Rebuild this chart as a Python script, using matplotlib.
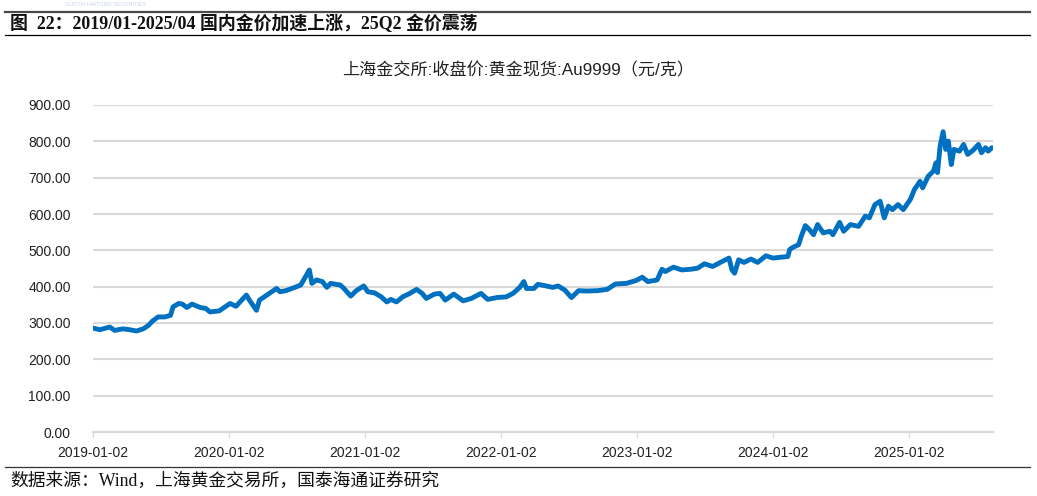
import matplotlib
matplotlib.use("Agg")
import matplotlib.pyplot as plt
import pandas as pd
from matplotlib.lines import Line2D

plt.rcParams['font.family'] = ['Liberation Sans', 'Noto Sans CJK SC', 'DejaVu Sans']

# ---- data ----
dates = [
    "2019-01-02", "2019-01-20", "2019-02-16", "2019-03-01", "2019-03-23", "2019-04-10",
    "2019-04-29", "2019-05-17", "2019-05-31", "2019-06-11", "2019-06-26", "2019-07-14",
    "2019-07-29", "2019-08-05", "2019-08-20", "2019-08-30", "2019-09-11", "2019-09-25",
    "2019-10-17", "2019-11-01", "2019-11-12", "2019-12-07", "2020-01-05", "2020-01-21",
    "2020-02-18", "2020-02-26", "2020-03-16", "2020-03-24", "2020-04-13", "2020-05-09",
    "2020-05-18", "2020-06-03", "2020-07-02", "2020-07-13", "2020-08-05", "2020-08-12",
    "2020-08-24", "2020-09-09", "2020-09-21", "2020-10-01", "2020-10-27", "2020-11-06",
    "2020-11-24", "2020-12-09", "2020-12-29", "2021-01-09", "2021-01-27", "2021-02-14",
    "2021-03-01", "2021-03-12", "2021-03-27", "2021-04-13", "2021-05-02", "2021-05-20",
    "2021-06-04", "2021-06-15", "2021-07-07", "2021-07-22", "2021-08-05", "2021-08-28",
    "2021-09-22", "2021-10-14", "2021-11-09", "2021-11-27", "2021-12-22", "2022-01-16",
    "2022-02-03", "2022-02-21", "2022-03-04", "2022-03-11", "2022-03-31", "2022-04-11",
    "2022-05-03", "2022-05-21", "2022-06-04", "2022-06-22", "2022-07-10", "2022-07-29",
    "2022-08-20", "2022-09-18", "2022-10-14", "2022-11-05", "2022-12-04", "2022-12-30",
    "2023-01-16", "2023-01-31", "2023-02-25", "2023-03-10", "2023-03-19", "2023-04-10",
    "2023-05-02", "2023-05-27", "2023-06-14", "2023-07-02", "2023-07-24", "2023-08-19",
    "2023-09-06", "2023-09-14", "2023-09-21", "2023-10-02", "2023-10-16", "2023-11-04",
    "2023-11-22", "2023-12-14", "2024-01-02", "2024-01-27", "2024-02-11", "2024-02-16",
    "2024-02-22", "2024-03-11", "2024-03-18", "2024-03-29", "2024-04-09", "2024-04-20",
    "2024-05-01", "2024-05-16", "2024-06-03", "2024-06-11", "2024-06-29", "2024-07-10",
    "2024-07-28", "2024-08-19", "2024-09-06", "2024-09-17", "2024-10-02", "2024-10-16",
    "2024-10-27", "2024-11-07", "2024-11-18", "2024-12-03", "2024-12-17", "2025-01-05",
    "2025-01-16", "2025-01-31", "2025-02-07", "2025-02-22", "2025-03-08", "2025-03-15",
    "2025-03-19", "2025-03-26", "2025-04-03", "2025-04-10", "2025-04-17", "2025-04-25",
    "2025-05-02", "2025-05-17", "2025-05-28", "2025-06-08", "2025-06-23", "2025-07-07",
    "2025-07-15", "2025-07-26", "2025-08-02", "2025-08-12",
]
prices = [
    286, 281.5, 289, 279.6, 284, 281.5,
    278, 284, 293.5, 305.5, 316.7, 316.7,
    321, 344.4, 353.7, 352, 342.6, 352,
    342.6, 340, 330.5, 333.3, 353.7, 346,
    377, 363, 335, 363, 377, 395,
    386, 389, 400, 404.6, 446, 409,
    418.5, 414, 398, 409, 404.6, 395,
    374, 389, 402, 386, 383, 372,
    358, 365, 358, 372, 381.5, 392.6,
    381.5, 367.6, 379.6, 381.5, 363, 379.6,
    361, 367.6, 381.5, 365, 370, 372,
    381.5, 398, 414, 395, 395, 406.5,
    402, 398, 402, 390.7, 370, 389,
    388, 389, 392.6, 407.4, 409, 416.7,
    426, 414, 418.5, 448, 441.7, 453.7,
    446, 448, 451, 463, 455.6, 469.5,
    478.7, 446, 437, 474, 466.7, 476,
    466.7, 485, 478.7, 481.5, 483, 502,
    506.7, 515.8, 538.7, 568, 557, 543,
    571, 548, 552.5, 543, 577, 552.5,
    571, 566, 594, 589.5, 626, 635,
    589.5, 621.5, 612, 626, 612, 640,
    667.5, 690, 672, 704, 718, 741,
    714, 787, 826.5, 777.8, 800.7, 736,
    777.8, 773, 791.5, 764, 776, 791.5,
    768.7, 782.5, 773, 782.5,
]
tick_dates = ["2019-01-02", "2020-01-02", "2021-01-02", "2022-01-02",
              "2023-01-02", "2024-01-02", "2025-01-02"]
y_ticks = [0, 100, 200, 300, 400, 500, 600, 700, 800, 900]

fig_title = "图  22：2019/01-2025/04 国内金价加速上涨，25Q2 金价震荡"
chart_title = "上海金交所:收盘价:黄金现货:Au9999（元/克）"
source_text = "数据来源：Wind，上海黄金交易所，国泰海通证券研究"
header_text = "GUOTAI HAITONG SECURITIES"

x = pd.to_datetime(dates)

fig = plt.figure(figsize=(10.37, 4.96), dpi=100)
ax = fig.add_axes([93 / 1037, 1 - 432 / 496, 900 / 1037, 327 / 496])

ax.plot(x, prices, color="#0070C0", lw=3.5, solid_joinstyle="round",
        solid_capstyle="round", zorder=3)

ax.set_ylim(0, 900)
ax.set_yticks(y_ticks)
ax.set_yticklabels([f"{v:.2f}" for v in y_ticks])
ax.set_xlim(pd.Timestamp("2019-01-02"), pd.Timestamp("2025-08-15"))
ax.set_xticks(pd.to_datetime(tick_dates))
ax.set_xticklabels(tick_dates)

ax.grid(axis="y", color="#D9D9D9", lw=1.5, zorder=0)
ax.set_axisbelow(True)
for s in ["top", "right", "left"]:
    ax.spines[s].set_visible(False)
ax.spines["bottom"].set_color("#D9D9D9")
ax.spines["bottom"].set_linewidth(1.5)
ax.tick_params(axis="y", length=0, pad=16, labelsize=10, labelcolor="#222222")
ax.tick_params(axis="x", length=4, width=1, color="#D9D9D9", pad=6,
               labelsize=10, labelcolor="#222222")

# header / footer decorations
fig.add_artist(Line2D([5 / 1037, 1030 / 1037], [1 - 12 / 496] * 2, color="#4a4a4a", lw=1.6))
fig.add_artist(Line2D([5 / 1037, 1030 / 1037], [1 - 35 / 496] * 2, color="#000000", lw=0.9))
fig.add_artist(Line2D([5 / 1037, 1030 / 1037], [1 - 467 / 496] * 2, color="#333333", lw=0.9))
fig.text(65 / 1037, 1 - 5 / 496, header_text, fontsize=4, color="#C9D6EA",
         va="center", ha="left")

fig.text(10 / 1037, 1 - 24 / 496, fig_title, fontsize=12.9, fontweight="bold",
         family=["Liberation Serif", "Noto Sans CJK SC"], va="center", ha="left",
         color="#111111")
fig.text(518 / 1037, 1 - 70 / 496, chart_title, fontsize=12.3, va="center",
         ha="center", color="#222222")
fig.text(10 / 1037, 1 - 481 / 496, source_text, fontsize=12.8,
         family=["Liberation Serif", "Noto Sans CJK SC"], va="center", ha="left",
         color="#111111")

fig.savefig("out.png", dpi=100)
